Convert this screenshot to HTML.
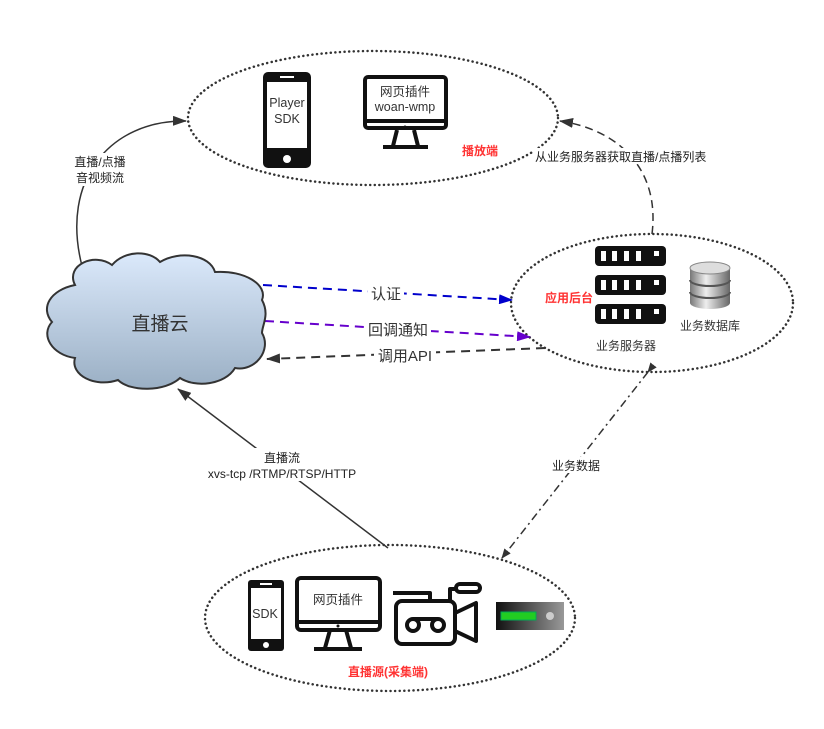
<!DOCTYPE html>
<html><head><meta charset="utf-8"><style>
body{margin:0;background:#fff}
svg text{font-family:"Liberation Sans","Noto Sans CJK SC",sans-serif}
</style></head><body>
<svg width="824" height="724" viewBox="0 0 824 724" xmlns="http://www.w3.org/2000/svg">
<defs>
<linearGradient id="cg" x1="0" y1="0" x2="0" y2="1"><stop offset="0" stop-color="#dbe9fb"/><stop offset="1" stop-color="#9aafc4"/></linearGradient>
<linearGradient id="dg" x1="0" y1="0" x2="1" y2="0"><stop offset="0" stop-color="#111"/><stop offset="1" stop-color="#999"/></linearGradient>
<linearGradient id="db" x1="0" y1="0" x2="1" y2="0"><stop offset="0" stop-color="#777"/><stop offset=".4" stop-color="#eee"/><stop offset="1" stop-color="#666"/></linearGradient>
<marker id="ak" markerWidth="10" markerHeight="8" refX="9" refY="4" orient="auto" markerUnits="userSpaceOnUse"><path d="M0,0L10,4L0,8z" fill="#333"/></marker>
<marker id="ab" markerWidth="14" markerHeight="10" refX="13" refY="5" orient="auto" markerUnits="userSpaceOnUse"><path d="M0,0L14,5L0,10z" fill="#0000cc"/></marker>
<marker id="ap" markerWidth="14" markerHeight="10" refX="13" refY="5" orient="auto" markerUnits="userSpaceOnUse"><path d="M0,0L14,5L0,10z" fill="#6600cc"/></marker>
<marker id="ad" markerWidth="14" markerHeight="10" refX="13" refY="5" orient="auto" markerUnits="userSpaceOnUse"><path d="M0,0L14,5L0,10z" fill="#333"/></marker>
</defs>
<g fill="none" stroke="#333" stroke-width="2.5" stroke-dasharray="0.1 4.5" stroke-linecap="round">
<ellipse cx="373" cy="118" rx="185" ry="67"/>
<ellipse cx="652" cy="303" rx="141" ry="69"/>
<ellipse cx="390" cy="618" rx="185" ry="73"/>
</g>
<path d="M82,266 C60,180 110,120 186,121" fill="none" stroke="#333" stroke-width="1.5" marker-end="url(#ad)"/>
<path d="M652,234 C660,170 620,130 560,121" fill="none" stroke="#333" stroke-width="1.5" stroke-dasharray="8 5" marker-end="url(#ad)"/>
<line x1="263" y1="285" x2="512" y2="300" stroke="#0000cc" stroke-width="2" stroke-dasharray="9 6" marker-end="url(#ab)"/>
<line x1="265" y1="321" x2="530" y2="337" stroke="#6600cc" stroke-width="2" stroke-dasharray="9 6" marker-end="url(#ap)"/>
<line x1="545" y1="348" x2="267" y2="359" stroke="#333" stroke-width="2" stroke-dasharray="9 6" marker-end="url(#ad)"/>
<line x1="388" y1="548" x2="178" y2="389" stroke="#333" stroke-width="1.5" marker-end="url(#ad)"/>
<line x1="648" y1="372" x2="502" y2="558" stroke="#333" stroke-width="1.5" stroke-dasharray="8 4 2 4" marker-start="url(#ak)" marker-end="url(#ak)"/>
<rect x="368" y="284" width="36" height="18" fill="#fff"/>
<text x="386" y="299" font-size="15" text-anchor="middle" fill="#333">认证</text>
<rect x="365" y="320" width="66" height="18" fill="#fff"/>
<text x="398" y="335" font-size="15" text-anchor="middle" fill="#333">回调通知</text>
<rect x="374" y="346" width="62" height="18" fill="#fff"/>
<text x="405" y="361" font-size="15" text-anchor="middle" fill="#333">调用API</text>
<rect x="70" y="153" width="60" height="33" fill="#fff"/>
<text x="100" y="166" font-size="12" text-anchor="middle" fill="#222">直播/点播</text>
<text x="100" y="182" font-size="12" text-anchor="middle" fill="#222">音视频流</text>
<rect x="533" y="148" width="190" height="16" fill="#fff"/>
<text x="535" y="161" font-size="12" fill="#222">从业务服务器获取直播/点播列表</text>
<rect x="205" y="448" width="155" height="33" fill="#fff"/>
<text x="282" y="462" font-size="12" text-anchor="middle" fill="#222">直播流</text>
<text x="282" y="478" font-size="12" text-anchor="middle" fill="#222">xvs-tcp /RTMP/RTSP/HTTP</text>
<rect x="548" y="457" width="56" height="16" fill="#fff"/>
<text x="576" y="470" font-size="12" text-anchor="middle" fill="#222">业务数据</text>
<path d="M75,285 C65,265 95,252 112,265 C125,250 150,250 160,262 C180,250 210,255 215,272 C245,270 268,285 262,300 C270,315 262,325 262,333 C272,350 255,372 235,368 C225,385 195,388 180,378 C165,392 130,392 118,380 C95,388 70,375 75,358 C52,355 40,335 52,322 C40,308 50,290 75,285 Z" fill="url(#cg)" stroke="#333" stroke-width="2"/>
<text x="160" y="330" font-size="19" text-anchor="middle" fill="#333">直播云</text>
<rect x="263" y="72" width="48" height="96" rx="5" fill="#111"/>
<rect x="267" y="82" width="40" height="66" fill="#fff"/>
<rect x="280" y="76" width="14" height="2" fill="#fff"/>
<circle cx="287" cy="159" r="4" fill="#fff"/>
<text x="287" y="107" font-size="12.5" text-anchor="middle" fill="#333">Player</text>
<text x="287" y="123" font-size="12.5" text-anchor="middle" fill="#333">SDK</text>
<rect x="365" y="77" width="81" height="51" rx="3" fill="none" stroke="#111" stroke-width="4"/>
<line x1="365" y1="121" x2="446" y2="121" stroke="#111" stroke-width="4"/>
<circle cx="405" cy="127" r="1.5" fill="#111"/>
<path d="M397,130 L393,146 M414,130 L418,146 M383,147 L428,147" stroke="#111" stroke-width="4" fill="none"/>
<text x="405" y="96" font-size="12.5" text-anchor="middle" fill="#333">网页插件</text>
<text x="405" y="111" font-size="12.5" text-anchor="middle" fill="#333">woan-wmp</text>
<text x="480" y="155" font-size="12" font-weight="bold" text-anchor="middle" fill="#ff3333">播放端</text>
<g fill="#111">
<rect x="595" y="246" width="71" height="20" rx="4"/>
<rect x="595" y="275" width="71" height="20" rx="4"/>
<rect x="595" y="304" width="71" height="20" rx="4"/>
</g>
<g fill="#fff">
<rect x="601" y="251" width="5" height="10"/><rect x="612" y="251" width="5" height="10"/><rect x="624" y="251" width="5" height="10"/><rect x="636" y="251" width="5" height="10"/><rect x="654" y="251" width="5" height="5"/>
<rect x="601" y="280" width="5" height="10"/><rect x="612" y="280" width="5" height="10"/><rect x="624" y="280" width="5" height="10"/><rect x="636" y="280" width="5" height="10"/><rect x="654" y="280" width="5" height="5"/>
<rect x="601" y="309" width="5" height="10"/><rect x="612" y="309" width="5" height="10"/><rect x="624" y="309" width="5" height="10"/><rect x="636" y="309" width="5" height="10"/><rect x="654" y="309" width="5" height="5"/>
</g>
<text x="569" y="302" font-size="12" font-weight="bold" text-anchor="middle" fill="#ff3333">应用后台</text>
<text x="626" y="350" font-size="12" text-anchor="middle" fill="#333">业务服务器</text>
<path d="M690,268 L690,303 A20,6 0 0 0 730,303 L730,268 Z" fill="url(#db)"/>
<ellipse cx="710" cy="268" rx="20" ry="6" fill="#ddd" stroke="#888"/>
<path d="M690,280 A20,6 0 0 0 730,280 M690,292 A20,6 0 0 0 730,292" fill="none" stroke="#555" stroke-width="2"/>
<text x="710" y="330" font-size="12" text-anchor="middle" fill="#333">业务数据库</text>
<rect x="248" y="580" width="36" height="71" rx="3" fill="#111"/>
<rect x="251" y="588" width="30" height="51" fill="#fff"/>
<rect x="260" y="583" width="12" height="2" fill="#fff"/>
<circle cx="266" cy="645" r="3" fill="#fff"/>
<text x="265" y="618" font-size="12.5" text-anchor="middle" fill="#333">SDK</text>
<rect x="297" y="578" width="83" height="52" rx="4" fill="none" stroke="#111" stroke-width="4"/>
<line x1="297" y1="622" x2="380" y2="622" stroke="#111" stroke-width="4"/>
<circle cx="338" cy="626" r="1.5" fill="#111"/>
<path d="M330,630 L325,648 M346,630 L351,648 M314,649 L362,649" stroke="#111" stroke-width="4" fill="none"/>
<text x="338" y="604" font-size="12.5" text-anchor="middle" fill="#333">网页插件</text>
<g fill="none" stroke="#111" stroke-width="4" stroke-linejoin="round">
<path d="M393,593 L430,593 L430,601"/>
<path d="M450,601 L450,589 L456,589"/>
<rect x="456" y="584" width="24" height="8" rx="4"/>
<rect x="396" y="601" width="59" height="43" rx="6"/>
<path d="M455,613 L476,603 L476,641 L455,631"/>
<circle cx="413" cy="625" r="6"/><circle cx="438" cy="625" r="6"/>
<line x1="413" y1="619" x2="438" y2="619"/>
</g>
<rect x="496" y="602" width="68" height="28" fill="url(#dg)"/>
<rect x="501" y="612" width="35" height="8" fill="#22cc22" stroke="#0a5"/>
<circle cx="550" cy="616" r="4" fill="#ccc"/>
<text x="388" y="676" font-size="12" font-weight="bold" text-anchor="middle" fill="#ff3333">直播源(采集端)</text>
</svg>
</body></html>
